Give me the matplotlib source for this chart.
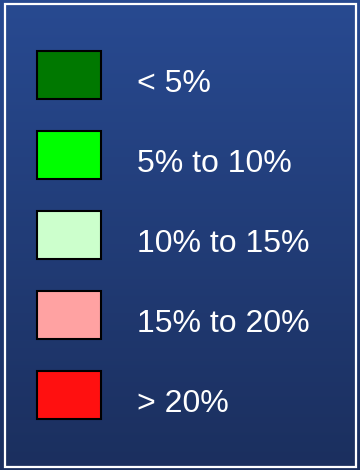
import numpy as np
import matplotlib.pyplot as plt
from matplotlib.colors import LinearSegmentedColormap
from matplotlib.patches import Rectangle

# legend classes
labels = ["< 5%", "5% to 10%", "10% to 15%", "15% to 20%", "> 20%"]
colors = ["#007800", "#00ff00", "#ccffcc", "#ffa2a2", "#ff1010"]

W, H = 360, 470
fig = plt.figure(figsize=(W / 100, H / 100), dpi=100)
ax = fig.add_axes([0, 0, 1, 1])
ax.set_xlim(0, W)
ax.set_ylim(H, 0)
ax.axis("off")

# vertical blue gradient background
bg = LinearSegmentedColormap.from_list("bg", ["#284a91", "#1b2f5e"])
grad = np.linspace(0, 1, 256).reshape(-1, 1)
ax.imshow(grad, cmap=bg, extent=(0, W, H, 0), aspect="auto", zorder=0)

# white frame
ax.add_patch(Rectangle((5, 4), 351, 463, fill=False, edgecolor="white",
                       linewidth=1.6, zorder=1))

rows = 75 + 80 * np.arange(len(labels))
ax.barh(rows, 64, left=37, height=48, color=colors, edgecolor="black",
        linewidth=1.5, zorder=2)

for y, lab in zip(rows, labels):
    ax.text(137, y + 17, lab, color="white", fontsize=23,
            family="Liberation Sans", va="baseline", ha="left", zorder=3)

fig.savefig("out.png", dpi=100)
